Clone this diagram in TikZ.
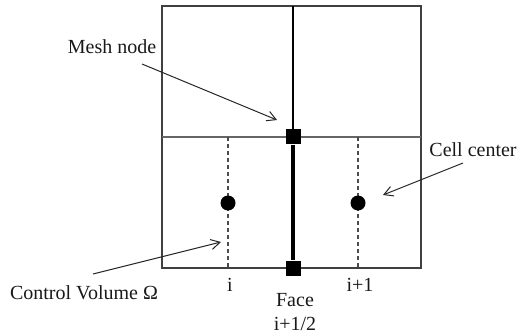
\documentclass[tikz,border=0pt]{standalone}
\usepackage{fontspec}
\setmainfont{Liberation Serif}
\usetikzlibrary{arrows.meta}
\begin{document}
\begin{tikzpicture}[x=1pt,y=-1pt,
  lbl/.style={font=\fontsize{20}{22}\selectfont, inner sep=0pt, text=black!90},
  sq/.style={fill=black, minimum size=15pt, inner sep=0pt},
  dot/.style={circle, fill=black, minimum size=15pt, inner sep=0pt},
  gridline/.style={draw=black!75, line width=1.3pt},
  cvdash/.style={draw=black!70, line width=1.1pt, dash pattern=on 4pt off 3pt},
  pointer/.style={draw=black!85, line width=1pt, -{Straight Barb[length=9pt,width=10pt]}}]
\useasboundingbox (0,0) rectangle (518,336);
% grid
\coordinate (tl) at (162,6);
\coordinate (br) at (421,268);
\draw[gridline] (tl) rectangle (br);
\coordinate (ml) at (162,137);
\coordinate (mr) at (421,137);
\draw[gridline, draw=black!60] (ml) -- (mr);
\coordinate (topmid) at (293,6);
% dashed control-volume lines
\coordinate (d1t) at (228,137);
\coordinate (d1b) at (228,268);
\coordinate (d2t) at (358,137);
\coordinate (d2b) at (358,268);
\draw[cvdash] (d1t) -- (d1b);
\draw[cvdash] (d2t) -- (d2b);
% nodes
\node[sq] (n1) at (293,137) {};
\node[sq] (n2) at (293,268) {};
\draw[line width=1.8pt] (topmid) -- (n1);
\draw[line width=4pt] (n1) -- (n2);
\node[dot] (c1) at (228,203) {};
\node[dot] (c2) at (358,203) {};
% labels
\node[lbl] (meshlbl) at (112,47) {Mesh node};
\node[lbl] (celllbl) at (473,150) {Cell center};
\node[lbl] (cvlbl) at (84,293) {Control Volume Ω};
\node[lbl] (ilbl) at (230,285) {i};
\node[lbl] (ip1lbl) at (360,285) {i+1};
\node[lbl] (facelbl) at (295,300) {Face};
\node[lbl] (halflbl) at (295,324) {i+1/2};
% pointers
\coordinate (a1s) at (142,64);
\coordinate (a1e) at (277,120);
\draw[pointer] (a1s) -- (a1e);
\coordinate (a2s) at (463,163);
\coordinate (a2e) at (383,195);
\draw[pointer] (a2s) -- (a2e);
\coordinate (a3s) at (93,274);
\coordinate (a3e) at (221,242);
\draw[pointer] (a3s) -- (a3e);
\end{tikzpicture}
\end{document}
